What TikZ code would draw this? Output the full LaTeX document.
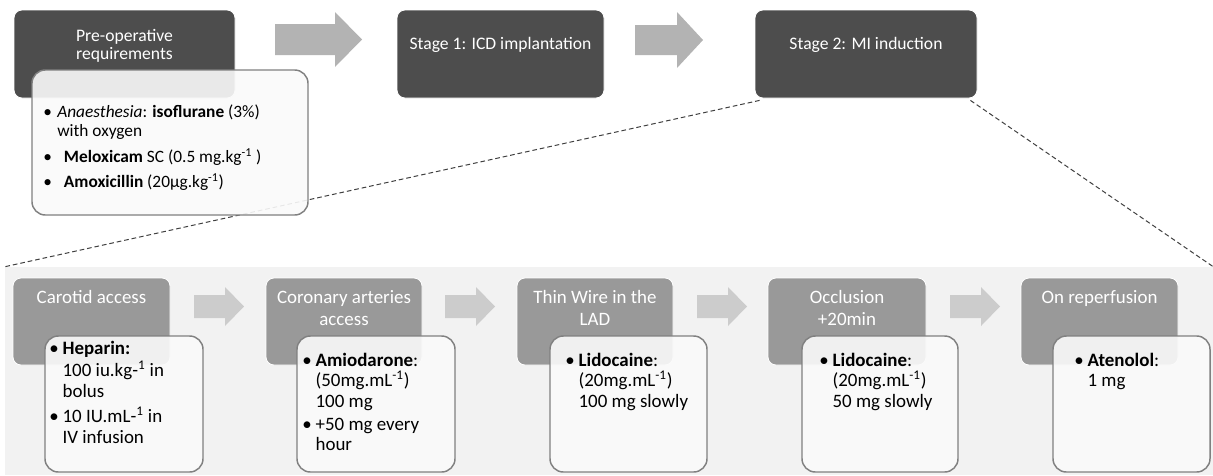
\documentclass[tikz,border=0pt]{standalone}
\usepackage{fontspec}
\setmainfont{Carlito}
\usetikzlibrary{fit}
\definecolor{darkc}{HTML}{4D4D4D}
\definecolor{midc}{HTML}{999999}
\definecolor{arrA}{HTML}{B3B3B3}
\definecolor{arrB}{HTML}{CCCCCC}
\definecolor{bgc}{HTML}{F2F2F2}
\definecolor{edgec}{HTML}{808080}
\definecolor{dashc}{HTML}{404040}
\newlength{\bwid}
\newcommand{\bl}{\makebox[\bwid][l]{•}}
\newcommand{\ind}{\hspace*{\bwid}}
\begin{document}
\begin{tikzpicture}[x=0.75pt,y=-0.75pt,
  darkbox/.style={fit={#1}, inner sep=0pt, draw=white, line width=0.6pt, fill=darkc, rounded corners=6pt},
  midbox/.style={fit={#1}, inner sep=0pt, draw=white, line width=0.6pt, fill=midc, rounded corners=6pt},
  whitebox/.style={fit={#1}, inner sep=0pt, draw=edgec, line width=1.1pt, fill=white!98!black, fill opacity=0.9, rounded corners=10pt},
  toptxt/.style={text=white, align=center, inner sep=0pt, font=\fontsize{13.2}{13.5}\selectfont},
  bottxt/.style={text=white, align=center, inner sep=0pt, anchor=north, font=\fontsize{14.2}{16.5}\selectfont},
  wtxt/.style={text=black, align=left, inner sep=0pt, anchor=north west, font=\fontsize{14.2}{15.2}\selectfont\setlength{\bwid}{10pt}},
  wtxtloose/.style={wtxt, font=\fontsize{14.2}{16.2}\selectfont\setlength{\bwid}{10pt}},
  pwtxt/.style={text=black, align=left, inner sep=0pt, anchor=north west, font=\fontsize{13}{14.25}\selectfont\setlength{\bwid}{10.5pt}},
  dashline/.style={draw=dashc, line width=0.75pt, dash pattern=on 3.5pt off 2.2pt},
  bigarrow/.style={fill=arrA},
  smallarrow/.style={fill=arrB}]
\useasboundingbox (0,0) rectangle (1213,475);

% background panel
\node[fit={(5,267) (1213,475)}, inner sep=0pt, fill=bgc] (bg) {};

% top row
\node[darkbox={(14,10) (235,98)}] (pre) {};
\node[darkbox={(397,10) (604,98)}] (s1) {};
\node[darkbox={(755,10) (977,98)}] (s2) {};

% zoom lines
\coordinate (zl) at ([shift={(5,2)}]s2.south west);
\coordinate (zr) at ([shift={(-7,2)}]s2.south east);
\draw[dashline] (zl) -- (bg.north west);
\draw[dashline] (zr) -- (bg.north east);

\node[toptxt] (pre-t) at (124.5,46) {Pre-operative\\requirements};
\node[toptxt] (s1-t) at (500.5,44.5) {Stage 1: ICD implantation};
\node[toptxt] (s2-t) at (866,44.5) {Stage 2: MI induction};

\fill[bigarrow] (275,24) -- (335,24) -- (335,12) -- (362,39.5) -- (335,67) -- (335,55) -- (275,55) -- cycle;
\fill[bigarrow] (635,25) -- (677,25) -- (677,12) -- (703,40) -- (677,68) -- (677,55) -- (635,55) -- cycle;

\node[whitebox={(32,70) (308,215)}] (prew) {};
\node[pwtxt] (prew-t) at (43,105) {\bl\textit{Anaesthesia}: \textbf{isoflurane} (3\%)\\
\ind with oxygen\\[5pt]
\bl\hspace{5pt}\textbf{Meloxicam} SC (0.5 mg.kg\textsuperscript{-1} )\\[4.5pt]
\bl\hspace{5pt}\textbf{Amoxicillin} (20µg.kg\textsuperscript{-1})};

% bottom row arrows
\foreach \s in {194,445,697,950}{
  \fill[smallarrow] (\s,295) -- (\s+31,295) -- (\s+31,287) -- (\s+50,306.5) -- (\s+31,326) -- (\s+31,318) -- (\s,318) -- cycle;
}

% bottom row boxes
\node[midbox={(13,278) (170,365)}] (c1) {};
\node[midbox={(266,278) (422,365)}] (c2) {};
\node[midbox={(517,278) (673,365)}] (c3) {};
\node[midbox={(768,278) (926,365)}] (c4) {};
\node[midbox={(1021,278) (1178,365)}] (c5) {};

\node[bottxt] (c1-t) at (c1.north |- 0,290) {Carotid access};
\node[bottxt] (c2-t) at (c2.north |- 0,290) {Coronary arteries\\access};
\node[bottxt] (c3-t) at (c3.north |- 0,290) {Thin Wire in the\\LAD};
\node[bottxt] (c4-t) at (c4.north |- 0,290) {Occlusion\\+20min};
\node[bottxt] (c5-t) at (c5.north |- 0,290) {On reperfusion};

\node[whitebox={(45,336) (203,472)}] (w1) {};
\node[whitebox={(297,336) (455,472)}] (w2) {};
\node[whitebox={(550,336) (707,472)}] (w3) {};
\node[whitebox={(802,336) (958,472)}] (w4) {};
\node[whitebox={(1053,336) (1210,472)}] (w5) {};

\node[wtxtloose] (w1-t) at (49,341) {\bl\textbf{Heparin:}\\
\ind 100 iu.kg-\textsuperscript{1} in\\
\ind bolus\\[2pt]
\bl 10 IU.mL-\textsuperscript{1} in\\
\ind IV infusion};
\node[wtxt] (w2-t) at (302,353) {\bl\textbf{Amiodarone}:\\
\ind (50mg.mL\textsuperscript{-1})\\
\ind 100 mg\\[2pt]
\bl +50 mg every\\
\ind hour};
\node[wtxt] (w3-t) at (565,353) {\bl\textbf{Lidocaine}:\\
\ind (20mg.mL\textsuperscript{-1})\\
\ind 100 mg slowly};
\node[wtxt] (w4-t) at (819,353) {\bl\textbf{Lidocaine}:\\
\ind (20mg.mL\textsuperscript{-1})\\
\ind 50 mg slowly};
\node[wtxt] (w5-t) at (1074,353) {\bl\textbf{Atenolol}:\\
\ind 1 mg};
\end{tikzpicture}
\end{document}
